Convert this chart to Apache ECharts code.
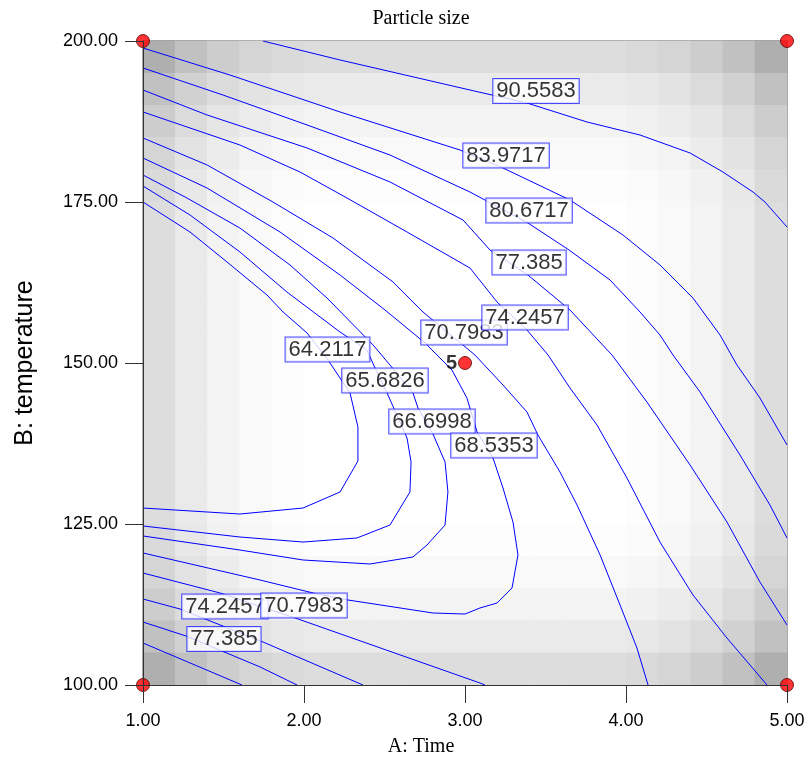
<!DOCTYPE html>
<html>
<head>
<meta charset="utf-8">
<script src="https://cdn.jsdelivr.net/npm/echarts@6/dist/echarts.min.js"></script>
<style>html,body{margin:0;padding:0;background:#fff;}#chart{width:811px;height:764px;}</style>
</head>
<body>
<div id="chart"></div>
<script>
// ---- axis ranges / ticks ----
const xTicks = [1, 2, 3, 4, 5];
const yTicks = [100, 125, 150, 175, 200];

// ---- design-space shading (darkness per row / column, 20x20 cells) ----
const shadeRows = [34, 21, 12, 6, 2, 0, 0, 0, 0, 0, 0, 0, 0, 0, 0, 2, 6, 12, 21, 34];
const shadeCols = [34, 21, 12, 6, 2, 0, 0, 0, 0, 0, 0, 0, 0, 0, 0, 2, 6, 12, 21, 34];

// ---- contour lines [A: Time, B: temperature] ----
const c90_5583 = [[1.745,200],[2.224,197.05],[3.031,192.39],[3.385,190.37],[3.758,187.42],[4.087,185.40],[4.398,182.61],[4.602,179.66],[4.789,176.55],[4.863,175.0],[5.0,171.12]];
const c83_9717 = [[1,198.91],[1.540,194.72],[2.224,188.98],[2.969,183.07],[3.236,180.28],[3.652,175.31],[3.981,169.88],[4.211,165.22],[4.416,160.09],[4.584,154.35],[4.689,149.69],[4.832,144.57],[5.0,137.27]];
const c80_6717a = [[1,195.81],[1.497,191.61],[2.019,186.96],[2.534,182.30],[3.031,176.55],[3.391,171.74],[3.646,167.55],[3.901,162.89],[4.087,157.92],[4.211,154.35],[4.292,151.24],[4.460,145.50],[4.708,135.71],[4.894,127.95],[5.0,122.83]];
const c80_6717b = [[1,106.52],[1.615,100]];
const c77_385a = [[1,192.39],[1.398,188.51],[2.019,183.39],[2.534,178.11],[2.988,172.20],[3.155,167.55],[3.391,163.66],[3.652,158.23],[3.913,151.24],[4.130,143.94],[4.398,134.16],[4.627,125.31],[4.832,115.99],[5.0,109.32]];
const c77_385b = [[1,109.78],[1.267,107.61],[1.727,102.80],[1.957,100]];
const c74_2457a = [[1,188.98],[1.602,183.85],[1.975,179.66],[2.267,175.62],[2.640,170.34],[3.031,164.75],[3.199,159.47],[3.385,155.12],[3.516,151.24],[3.652,146.12],[3.820,140.37],[4.006,132.14],[4.211,122.20],[4.416,113.98],[4.627,107.30],[4.876,100]];
const c74_2457b = [[1,113.35],[1.230,111.80],[1.745,106.68],[2.366,100]];
const c70_7983a = [[1,184.94],[1.398,180.75],[1.807,175.0],[2.180,169.41],[2.553,162.58],[2.739,157.92],[3.062,151.24],[3.236,146.58],[3.385,142.39],[3.453,138.82],[3.590,133.07],[3.696,127.95],[3.839,120.19],[3.963,112.42],[4.068,105.75],[4.137,100]];
const c70_7983b = [[1,117.39],[1.478,114.29],[1.963,110.25],[3.093,100.31],[3.124,100]];
const c68_5353 = [[1,181.83],[1.398,177.17],[1.851,170.34],[2.224,163.66],[2.503,158.23],[2.752,153.11],[2.919,148.91],[3.012,144.57],[3.075,139.29],[3.174,135.25],[3.236,130.59],[3.298,125.31],[3.329,120.19],[3.292,115.06],[3.199,112.73],[3.093,111.96],[3.0,111.02],[2.801,111.18],[2.273,113.20],[2.056,114.29],[1.727,116.30],[1,120.50]];
const c66_6998 = [[1,179.19],[1.273,175.62],[1.602,170.96],[1.913,165.22],[2.143,160.09],[2.429,152.80],[2.534,149.69],[2.677,145.34],[2.708,143.01],[2.801,138.98],[2.876,134.63],[2.894,129.97],[2.876,124.84],[2.764,121.74],[2.677,119.88],[2.410,118.79],[1.994,119.41],[1.602,120.96],[1,123.14]];
const c65_6826 = [[1,177.48],[1.292,172.98],[1.602,167.24],[1.894,161.02],[2.224,154.81],[2.391,152.02],[2.441,149.22],[2.516,145.34],[2.640,138.35],[2.665,134.63],[2.658,129.97],[2.534,124.84],[2.329,122.83],[1.994,122.20],[1.602,122.98],[1,124.69]];
const c64_2117 = [[1,175.0],[1.292,170.34],[1.522,165.68],[1.770,160.56],[1.870,157.92],[2.019,154.66],[2.149,150.47],[2.286,145.34],[2.335,140.06],[2.335,134.78],[2.224,129.97],[1.994,127.48],[1.602,126.55],[1,127.48]];

// ---- contour labels [text, A, B] ----
const contourLabels = [
  ['90.5583', 3.441, 192.24],
  ['83.9717', 3.255, 182.22],
  ['80.6717', 3.398, 173.68],
  ['77.385', 3.398, 165.61],
  ['70.7983', 2.994, 154.74],
  ['74.2457', 3.373, 157.07],
  ['64.2117', 2.146, 152.10],
  ['65.6826', 2.503, 147.28],
  ['66.6998', 2.795, 140.92],
  ['68.5353', 3.180, 137.19],
  ['74.2457', 1.509, 112.19],
  ['70.7983', 2.000, 112.35],
  ['77.385', 1.503, 107.14]
];

// ---- design points ----
const designA = [1, 1, 5, 5, 3];
const designB = [100, 200, 100, 200, 150];
const designRuns = [1, 1, 1, 1, 5];

const contourSegments = [c90_5583, c83_9717, c80_6717a, c80_6717b, c77_385a, c77_385b,
  c74_2457a, c74_2457b, c70_7983a, c70_7983b, c68_5353, c66_6998, c65_6826, c64_2117];

const nCells = shadeCols.length;
const cellCats = Array.from({length: nCells}, (_, i) => String(i));
const heatData = [];
for (let r = 0; r < shadeRows.length; r++) {
  for (let c = 0; c < nCells; c++) {
    const d = shadeRows[r] + shadeCols[c] + shadeRows[r] * shadeCols[c] / 100;
    const g = Math.max(0, Math.round(255 - d));
    heatData.push({value: [c, nCells - 1 - r, d], itemStyle: {color: 'rgb(' + g + ',' + g + ',' + g + ')'}});
  }
}

const tickFont = 'Liberation Sans';
const lineBlue = '#0000ff';
const series = [];
series.push({
  type: 'heatmap', xAxisIndex: 1, yAxisIndex: 1, data: heatData, silent: true, z: 1,
  itemStyle: {borderWidth: 0}, emphasis: {disabled: true}
});
contourSegments.forEach(seg => {
  series.push({
    type: 'line', xAxisIndex: 0, yAxisIndex: 0, data: seg, showSymbol: false, symbol: 'none',
    silent: true, z: 3, color: lineBlue, itemStyle: {color: lineBlue},
    lineStyle: {color: lineBlue, width: 1, opacity: 1}, clip: true, emphasis: {disabled: true}
  });
});
series.push({
  type: 'scatter', xAxisIndex: 0, yAxisIndex: 0, silent: true, z: 5, symbol: 'rect', symbolSize: 1,
  itemStyle: {color: '#ffffff'}, emphasis: {disabled: true},
  data: contourLabels.map(l => ({name: l[0], value: [l[1], l[2]]})),
  label: {
    show: true, position: 'inside', formatter: p => p.name,
    fontFamily: tickFont, fontSize: 22, color: '#000000',
    backgroundColor: '#ffffff', borderColor: '#2020ff', borderWidth: 1, padding: [2, 3, 0, 3]
  },
  clip: false
});
series.push({
  type: 'scatter', xAxisIndex: 0, yAxisIndex: 0, silent: true, z: 8, symbolSize: 13, clip: false,
  itemStyle: {color: '#ff0000', borderColor: '#550000', borderWidth: 1}, emphasis: {disabled: true},
  data: designA.map((a, i) => ({
    value: [a, designB[i]],
    label: designRuns[i] > 1 ? {show: true, formatter: String(designRuns[i]), position: 'left', distance: 1,
      fontFamily: tickFont, fontWeight: 'bold', fontSize: 20, color: '#000'} : {show: false}
  }))
});

const chart = echarts.init(document.getElementById('chart'), null, {renderer: 'canvas'});
chart.setOption({
  animation: false,
  backgroundColor: '#ffffff',
  grid: {left: 143, top: 41, width: 644, height: 644, show: true, borderColor: '#444', borderWidth: 1, backgroundColor: '#fff'},
  xAxis: [
    {type: 'value', min: xTicks[0], max: xTicks[xTicks.length - 1], interval: 1,
     axisLine: {show: true, lineStyle: {color: '#333', width: 1}},
     axisTick: {show: true, length: 18, lineStyle: {color: '#333'}},
     axisLabel: {formatter: v => v.toFixed(2), fontFamily: tickFont, fontSize: 18, color: '#000', margin: 27},
     splitLine: {show: false}, z: 10},
    {type: 'category', data: cellCats, show: false, boundaryGap: true}
  ],
  yAxis: [
    {type: 'value', min: yTicks[0], max: yTicks[yTicks.length - 1], interval: 25,
     axisLine: {show: true, lineStyle: {color: '#333', width: 1}},
     axisTick: {show: true, length: 18, lineStyle: {color: '#333'}},
     axisLabel: {formatter: v => v.toFixed(2), fontFamily: tickFont, fontSize: 18, color: '#000', margin: 25},
     splitLine: {show: false}, z: 10},
    {type: 'category', data: cellCats, show: false, boundaryGap: true}
  ],
  graphic: [
    {type: 'text', x: 421, y: 19, style: {text: 'Particle size', font: '20px "Liberation Serif"', fill: '#000',
      align: 'center', verticalAlign: 'middle', textAlign: 'center', textVerticalAlign: 'middle'}},
    {type: 'text', x: 421, y: 747, style: {text: 'A: Time', font: '20px "Liberation Serif"', fill: '#000',
      align: 'center', verticalAlign: 'middle', textAlign: 'center', textVerticalAlign: 'middle'}},
    {type: 'text', x: 25, y: 363, rotation: Math.PI / 2, style: {text: 'B: temperature', font: '25px "Liberation Sans"', fill: '#000',
      align: 'center', verticalAlign: 'middle', textAlign: 'center', textVerticalAlign: 'middle'}}
  ],
  series: series
});
</script>
</body>
</html>
